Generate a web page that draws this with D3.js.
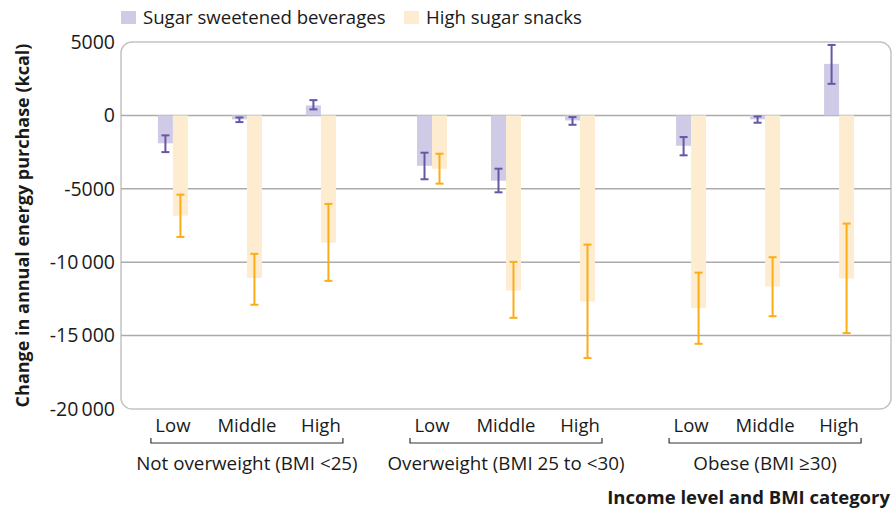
<!DOCTYPE html>
<html>
<head>
<meta charset="utf-8">
<script src="https://cdn.jsdelivr.net/npm/d3@7"></script>
<style>
  body { margin: 0; background: #fff; }
  svg { display: block; }
</style>
</head>
<body>
<svg id="chart"></svg>
<script>
// data (kcal)
const groups = ["Not overweight (BMI <25)", "Overweight (BMI 25 to <30)", "Obese (BMI \u226530)"];
const incomes = ["Low", "Middle", "High"];
const seriesNames = ["Sugar sweetened beverages", "High sugar snacks"];

// order: group by group, Low/Middle/High
const ssbMean = [-1900, -270, 680, -3430, -4450, -340, -2070, -270, 3510];
const ssbLow  = [-2500, -455, 410, -4350, -5240, -640, -2720, -500, 2150];
const ssbHigh = [-1360, -140, 1040, -2540, -3630, -115, -1476, -70, 4800];

const hssMean = [-6830, -11070, -8670, -3630, -11930, -12680, -13130, -11660, -11110];
const hssLow  = [-8280, -12900, -11270, -4650, -13790, -16530, -15560, -13680, -14830];
const hssHigh = [-5400, -9430, -6030, -2610, -9980, -8800, -10710, -9660, -7370];

const yTicks = [5000, 0, -5000, -10000, -15000, -20000];

const width = 896, height = 508;
const margin = { top: 42, right: 5, bottom: 99, left: 121 };
const fill = ["#cfcbe6", "#fdecd0"];
const whisker = ["#6656a6", "#fbad18"];
const font = "'Open Sans', sans-serif";

const svg = d3.select("#chart")
  .attr("width", width)
  .attr("height", height)
  .attr("viewBox", `0 0 ${width} ${height}`);

const x0 = d3.scalePoint()
  .domain(groups)
  .range([margin.left, width - margin.right])
  .padding(0.486);

const x1 = d3.scalePoint()
  .domain(incomes)
  .range([-74, 74]);

const xs = d3.scaleBand()
  .domain(seriesNames)
  .range([-15, 15]);

const y = d3.scaleLinear()
  .domain([-20000, 5000])
  .range([height - margin.bottom, margin.top]);

// frame
svg.append("rect")
  .attr("x", margin.left)
  .attr("y", margin.top)
  .attr("width", width - margin.left - margin.right)
  .attr("height", y(-20000) - y(5000))
  .attr("rx", 11)
  .attr("fill", "none")
  .attr("stroke", "#c4c4c4")
  .attr("stroke-width", 1.5);

// gridlines
svg.append("g")
  .selectAll("line")
  .data(yTicks.filter(d => d > -20000 && d < 5000))
  .join("line")
  .attr("x1", margin.left)
  .attr("x2", width - margin.right)
  .attr("y1", d => y(d))
  .attr("y2", d => y(d))
  .attr("stroke", "#ababab")
  .attr("stroke-width", 1.5);

// y axis labels
const fmt = d => {
  const a = Math.abs(d);
  const s = a >= 10000 ? d3.format(",")(a).replace(",", "\u2009") : String(a);
  return (d < 0 ? "-" : "") + s;
};
svg.append("g")
  .selectAll("text")
  .data(yTicks)
  .join("text")
  .attr("x", margin.left - 6)
  .attr("y", d => y(d))
  .attr("dy", "0.35em")
  .attr("text-anchor", "end")
  .attr("font-family", font)
  .attr("font-size", 19.5)
  .attr("fill", "#1a1a1a")
  .text(fmt);

svg.append("text")
  .attr("transform", `translate(29,${(y(5000) + y(-20000)) / 2}) rotate(-90)`)
  .attr("text-anchor", "middle")
  .attr("font-family", font)
  .attr("font-weight", "bold")
  .attr("font-size", 18)
  .attr("fill", "#1a1a1a")
  .text("Change in annual energy purchase (kcal)");

// build rows
const rows = [];
groups.forEach((g, gi) => incomes.forEach((inc, ii) => {
  const i = gi * 3 + ii;
  rows.push({ g, inc, s: 0, v: ssbMean[i], lo: ssbLow[i], hi: ssbHigh[i] });
  rows.push({ g, inc, s: 1, v: hssMean[i], lo: hssLow[i], hi: hssHigh[i] });
}));
const cx = d => x0(d.g) + x1(d.inc) + xs(seriesNames[d.s]);

svg.append("g")
  .selectAll("rect")
  .data(rows)
  .join("rect")
  .attr("x", d => cx(d))
  .attr("width", xs.bandwidth())
  .attr("y", d => y(Math.max(0, d.v)))
  .attr("height", d => Math.abs(y(d.v) - y(0)))
  .attr("fill", d => fill[d.s]);

const eb = svg.append("g")
  .selectAll("g")
  .data(rows)
  .join("g")
  .attr("stroke", d => whisker[d.s])
  .attr("stroke-width", 2)
  .attr("transform", d => `translate(${cx(d) + xs.bandwidth() / 2},0)`);
eb.append("line").attr("y1", d => y(d.lo)).attr("y2", d => y(d.hi));
eb.append("line").attr("x1", -4).attr("x2", 4).attr("y1", d => y(d.lo)).attr("y2", d => y(d.lo));
eb.append("line").attr("x1", -4).attr("x2", 4).attr("y1", d => y(d.hi)).attr("y2", d => y(d.hi));

// x labels
const xg = svg.append("g").attr("font-family", font).attr("fill", "#1a1a1a");
groups.forEach(g => {
  xg.append("g")
    .selectAll("text")
    .data(incomes)
    .join("text")
    .attr("x", d => x0(g) + x1(d))
    .attr("y", 432)
    .attr("text-anchor", "middle")
    .attr("font-size", 18.5)
    .text(d => d);
  xg.append("path")
    .attr("d", `M${x0(g) - 96},438V443H${x0(g) + 96}V438`)
    .attr("fill", "none")
    .attr("stroke", "#333")
    .attr("stroke-width", 1.2);
  xg.append("text")
    .attr("x", x0(g))
    .attr("y", 470)
    .attr("text-anchor", "middle")
    .attr("font-size", 18.8)
    .text(g);
});

svg.append("text")
  .attr("x", width - 6)
  .attr("y", 504)
  .attr("text-anchor", "end")
  .attr("font-family", font)
  .attr("font-weight", "bold")
  .attr("font-size", 18.5)
  .attr("fill", "#1a1a1a")
  .text("Income level and BMI category");

// legend
const lg = svg.append("g").attr("font-family", font);
const lx = [121, 404];
seriesNames.forEach((n, i) => {
  lg.append("rect").attr("x", lx[i]).attr("y", 11).attr("width", 15).attr("height", 13).attr("fill", fill[i]);
  lg.append("text").attr("x", lx[i] + 22).attr("y", 24).attr("font-size", 18.6).attr("fill", "#1a1a1a").text(n);
});
</script>
</body>
</html>
